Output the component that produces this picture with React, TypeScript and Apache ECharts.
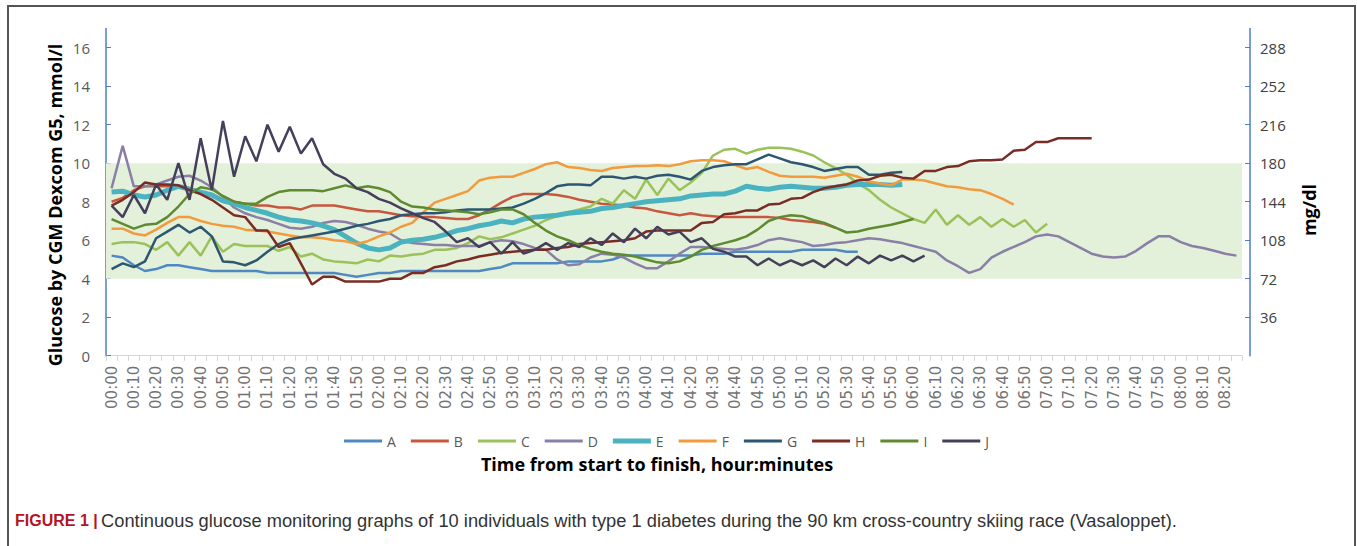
import { useEffect, useRef } from "react";
import * as echarts from "echarts";

const times = [
  "00:00","00:05","00:10","00:15","00:20","00:25","00:30","00:35","00:40","00:45","00:50","00:55",
  "01:00","01:05","01:10","01:15","01:20","01:25","01:30","01:35","01:40","01:45","01:50","01:55",
  "02:00","02:05","02:10","02:15","02:20","02:25","02:30","02:35","02:40","02:45","02:50","02:55",
  "03:00","03:05","03:10","03:15","03:20","03:25","03:30","03:35","03:40","03:45","03:50","03:55",
  "04:00","04:05","04:10","04:15","04:20","04:25","04:30","04:35","04:40","04:45","04:50","04:55",
  "05:00","05:05","05:10","05:15","05:20","05:25","05:30","05:35","05:40","05:45","05:50","05:55",
  "06:00","06:05","06:10","06:15","06:20","06:25","06:30","06:35","06:40","06:45","06:50","06:55",
  "07:00","07:05","07:10","07:15","07:20","07:25","07:30","07:35","07:40","07:45","07:50","07:55",
  "08:00","08:05","08:10","08:15","08:20","08:25"
];

const seriesNames = ["A", "B", "C", "D", "E", "F", "G", "H", "I", "J"];

const glucoseA = [
  5.2, 5.1, 4.7, 4.4, 4.5, 4.7, 4.7, 4.6, 4.5, 4.4, 4.4, 4.4, 4.4, 4.4, 4.3, 4.3, 4.3, 4.3, 4.3, 4.3,
  4.3, 4.2, 4.1, 4.2, 4.3, 4.3, 4.4, 4.4, 4.4, 4.4, 4.4, 4.4, 4.4, 4.4, 4.5, 4.6, 4.8, 4.8, 4.8, 4.8,
  4.8, 4.9, 4.9, 4.9, 4.9, 5.0, 5.2, 5.2, 5.2, 5.2, 5.2, 5.2, 5.2, 5.3, 5.3, 5.3, 5.4, 5.4, 5.4, 5.4,
  5.4, 5.4, 5.5, 5.5, 5.5, 5.5, 5.4, 5.4
];
const glucoseB = [
  8.0, 8.2, 8.6, 8.8, 8.8, 8.8, 8.8, 8.7, 8.5, 8.3, 8.1, 8.0, 7.9, 7.8, 7.8, 7.7, 7.7, 7.6, 7.8, 7.8,
  7.8, 7.7, 7.6, 7.5, 7.5, 7.4, 7.3, 7.25, 7.2, 7.2, 7.15, 7.1, 7.1, 7.3, 7.6, 7.95, 8.25, 8.4, 8.4, 8.4,
  8.35, 8.25, 8.1, 8.0, 7.9, 7.85, 7.8, 7.7, 7.65, 7.5, 7.4, 7.3, 7.4, 7.3, 7.25, 7.2, 7.2, 7.2, 7.2, 7.2,
  7.15, 7.05, 7.0, 6.95, 6.85, 6.65
];
const glucoseC = [
  5.8, 5.9, 5.9, 5.8, 5.5, 5.9, 5.2, 5.9, 5.2, 6.2, 5.4, 5.8, 5.7, 5.7, 5.7, 5.45, 5.65, 5.15, 5.3, 5.0,
  4.9, 4.85, 4.8, 5.0, 4.9, 5.2, 5.15, 5.25, 5.3, 5.5, 5.5, 5.6, 5.85, 6.2, 6.05, 6.15, 6.35, 6.55, 6.75, 7.05,
  7.25, 7.45, 7.6, 7.75, 8.15, 7.9, 8.6, 8.15, 9.15, 8.35, 9.2, 8.6, 9.0, 9.5, 10.4, 10.7, 10.75, 10.5, 10.7, 10.8,
  10.8, 10.75, 10.6, 10.4, 10.05, 9.75, 9.4, 8.95, 8.6, 8.1, 7.7, 7.4, 7.1, 6.9, 7.6, 6.8, 7.3, 6.8, 7.2, 6.7,
  7.1, 6.7, 7.05, 6.4, 6.85
];
const glucoseD = [
  8.7, 10.9, 8.8, 8.8, 8.9, 9.1, 9.3, 9.35, 9.1, 8.75, 8.25, 7.7, 7.4, 7.2, 7.05, 6.85, 6.65, 6.6, 6.7, 6.9,
  7.0, 6.95, 6.8, 6.6, 6.45, 6.35, 6.0, 5.85, 5.8, 5.75, 5.75, 5.7, 5.7, 5.7, 5.9, 6.0, 5.95, 5.8, 5.6, 5.5,
  5.0, 4.7, 4.75, 5.1, 5.3, 5.25, 5.1, 4.8, 4.55, 4.55, 4.9, 5.3, 5.65, 5.65, 5.6, 5.55, 5.5, 5.6, 5.75, 6.0,
  6.1, 6.0, 5.9, 5.7, 5.75, 5.85, 5.9, 6.0, 6.1, 6.05, 5.95, 5.85, 5.7, 5.55, 5.4, 4.95, 4.65, 4.3, 4.5, 5.1,
  5.4, 5.65, 5.9, 6.2, 6.3, 6.2, 5.9, 5.6, 5.3, 5.15, 5.1, 5.15, 5.45, 5.85, 6.2, 6.2, 5.9, 5.7, 5.6, 5.45,
  5.3, 5.2
];
const glucoseE = [
  8.5, 8.55, 8.35, 8.25, 8.35, 8.6, 8.8, 8.65, 8.5, 8.35, 8.05, 7.9, 7.7, 7.55, 7.4, 7.2, 7.05, 7.0, 6.9, 6.75,
  6.55, 6.2, 5.85, 5.6, 5.5, 5.6, 5.9, 6.0, 6.05, 6.15, 6.3, 6.5, 6.6, 6.75, 6.85, 7.0, 6.9, 7.1, 7.2, 7.25,
  7.3, 7.4, 7.45, 7.5, 7.65, 7.7, 7.8, 7.9, 8.0, 8.05, 8.1, 8.15, 8.3, 8.35, 8.4, 8.4, 8.55, 8.8, 8.7, 8.65,
  8.75, 8.8, 8.75, 8.7, 8.7, 8.75, 8.85, 8.9, 8.9, 8.9, 8.85, 8.9
];
const glucoseF = [
  6.6, 6.6, 6.35, 6.25, 6.55, 6.9, 7.2, 7.2, 7.0, 6.85, 6.75, 6.7, 6.55, 6.5, 6.45, 6.35, 6.25, 6.15, 6.15, 6.1,
  6.0, 5.95, 5.8, 5.95, 6.2, 6.4, 6.7, 6.9, 7.45, 7.95, 8.15, 8.35, 8.55, 9.1, 9.25, 9.3, 9.3, 9.5, 9.7, 9.95,
  10.05, 9.8, 9.75, 9.65, 9.6, 9.75, 9.8, 9.85, 9.85, 9.9, 9.85, 9.95, 10.1, 10.15, 10.15, 10.1, 9.9, 9.7, 9.8, 9.55,
  9.35, 9.3, 9.3, 9.3, 9.25, 9.35, 9.45, 9.3, 9.05, 8.95, 8.85, 9.15, 9.15, 9.1, 8.95, 8.8, 8.75, 8.65, 8.6, 8.4,
  8.15, 7.85
];
const glucoseG = [
  4.5, 4.8, 4.6, 4.9, 6.1, 6.45, 6.8, 6.4, 6.7, 6.2, 4.9, 4.85, 4.7, 4.95, 5.4, 5.8, 6.05, 6.15, 6.25, 6.35,
  6.45, 6.6, 6.75, 6.85, 7.0, 7.1, 7.3, 7.35, 7.4, 7.4, 7.45, 7.55, 7.6, 7.6, 7.6, 7.65, 7.7, 7.9, 8.15, 8.45,
  8.8, 8.9, 8.9, 8.85, 9.3, 9.3, 9.2, 9.3, 9.2, 9.35, 9.4, 9.3, 9.15, 9.6, 9.8, 9.9, 9.95, 9.95, 10.2, 10.45,
  10.25, 10.05, 9.95, 9.8, 9.6, 9.7, 9.8, 9.8, 9.4, 9.4, 9.5, 9.55
];
const glucoseH = [
  7.8, 8.1, 8.5, 9.0, 8.9, 8.9, 8.85, 8.6, 8.4, 8.1, 7.7, 7.3, 7.2, 6.5, 6.5, 5.65, 5.85, 4.8, 3.7, 4.1,
  4.1, 3.85, 3.85, 3.85, 3.85, 4.0, 4.0, 4.3, 4.3, 4.6, 4.7, 4.9, 5.0, 5.15, 5.25, 5.35, 5.4, 5.45, 5.5, 5.5,
  5.6, 5.65, 5.8, 5.85, 5.9, 5.95, 6.0, 6.1, 6.45, 6.5, 6.5, 6.5, 6.5, 6.9, 6.95, 7.35, 7.4, 7.55, 7.55, 7.85,
  7.9, 8.15, 8.2, 8.5, 8.7, 8.8, 8.9, 9.1, 9.15, 9.35, 9.4, 9.25, 9.2, 9.6, 9.6, 9.8, 9.85, 10.1, 10.15, 10.15,
  10.2, 10.65, 10.7, 11.1, 11.1, 11.3, 11.3, 11.3, 11.3
];
const glucoseI = [
  7.1, 6.85, 6.6, 6.8, 6.85, 7.2, 7.75, 8.4, 8.75, 8.65, 8.3, 8.0, 7.9, 7.9, 8.25, 8.5, 8.6, 8.6, 8.6, 8.55,
  8.7, 8.85, 8.7, 8.8, 8.7, 8.5, 8.0, 7.75, 7.7, 7.6, 7.55, 7.5, 7.45, 7.35, 7.45, 7.6, 7.6, 7.35, 6.9, 6.5,
  6.2, 6.0, 5.75, 5.55, 5.4, 5.3, 5.25, 5.15, 5.0, 4.85, 4.8, 4.9, 5.15, 5.5, 5.7, 5.85, 6.0, 6.2, 6.55, 7.0,
  7.2, 7.3, 7.25, 7.05, 6.9, 6.65, 6.4, 6.45, 6.6, 6.7, 6.8, 6.95, 7.1
];
const glucoseJ = [
  7.8, 7.2, 8.35, 7.4, 8.9, 8.1, 10.0, 8.1, 11.3, 8.6, 12.2, 9.3, 11.4, 10.1, 12.0, 10.6, 11.9, 10.5, 11.3, 9.95,
  9.45, 9.2, 8.7, 8.5, 8.15, 7.95, 7.65, 7.4, 7.15, 6.95, 6.45, 5.9, 6.1, 5.65, 5.9, 5.3, 5.9, 5.3, 5.5, 5.85,
  5.5, 5.85, 5.65, 6.1, 5.75, 6.35, 5.9, 6.6, 6.1, 6.7, 6.3, 6.45, 5.9, 6.1, 5.55, 5.4, 5.15, 5.15, 4.7, 5.05,
  4.7, 4.95, 4.7, 4.95, 4.6, 5.05, 4.7, 5.15, 4.8, 5.2, 4.95, 5.2, 4.9, 5.2
];

const allSeries = [glucoseA, glucoseB, glucoseC, glucoseD, glucoseE, glucoseF, glucoseG, glucoseH, glucoseI, glucoseJ];
const seriesColors = ["#4f88c2", "#c8573f", "#9bc25a", "#8a7fa6", "#4bb2c0", "#f29a3c", "#2d5671", "#7a2c24", "#5f8a30", "#463f5c"];
const seriesWidths = [2.5, 2.5, 2.5, 2.5, 5, 2.5, 2.5, 2.5, 2.5, 2.5];

const mmolTicks = [0, 2, 4, 6, 8, 10, 12, 14, 16];
const mgdlTicks = [36, 72, 108, 144, 180, 216, 252, 288];
const targetRange = [4, 10];

const yTitle = "Glucose by CGM Dexcom G5, mmol/l";
const yRightTitle = "mg/dl";
const xTitle = "Time from start to finish, hour:minutes";
const captionBold = "FIGURE 1 |";
const captionText =
  "Continuous glucose monitoring graphs of 10 individuals with type 1 diabetes during the 90 km cross-country skiing race (Vasaloppet).";

function pad(arr: number[]): (number | null)[] {
  const out: (number | null)[] = [];
  for (let i = 0; i < times.length; i++) out.push(i < arr.length ? arr[i] : null);
  return out;
}

export default function App() {
  const ref = useRef<HTMLDivElement>(null);
  useEffect(() => {
    if (!ref.current) return;
    const chart = echarts.init(ref.current, undefined, { renderer: "svg" });
    const axisBlue = "#4f7fc6";
    const series: any[] = [
      {
        name: "band",
        type: "line",
        data: [],
        silent: true,
        z: 1,
        markArea: {
          silent: true,
          itemStyle: { color: "#e3f0da" },
          data: [[{ yAxis: targetRange[0] }, { yAxis: targetRange[1] }]],
        },
      },
    ];
    seriesNames.forEach((n, i) => {
      series.push({
        name: n,
        type: "line",
        data: pad(allSeries[i]),
        symbol: "none",
        showSymbol: false,
        connectNulls: false,
        z: 3,
        lineStyle: { color: seriesColors[i], width: seriesWidths[i] },
        itemStyle: { color: seriesColors[i] },
      });
    });
    const legendData = seriesNames.map((n, i) => ({
      name: n,
      icon: seriesWidths[i] > 3 ? "path://M0,0H38V5H0Z" : "path://M0,0H38V3H0Z",
    }));
    chart.setOption({
      animation: false,
      grid: { left: 106, right: 115, top: 28.5, bottom: 190.3, containLabel: false },
      legend: {
        data: legendData,
        left: 339,
        top: 429,
        itemWidth: 38,
        itemHeight: 14,
        itemGap: 15,
        symbolKeepAspect: true,
        textStyle: { fontSize: 14, color: "#595959", fontFamily: "Open Sans" },
      },
      xAxis: {
        type: "category",
        data: times,
        boundaryGap: true,
        axisLine: { lineStyle: { color: "#d4d4d4", width: 1 } },
        axisTick: { show: true, interval: 0, length: 5, lineStyle: { color: "#d4d4d4" } },
        axisLabel: {
          interval: 1,
          rotate: 90,
          fontSize: 15,
          color: "#737373",
          fontFamily: "DejaVu Sans",
          margin: 10,
        },
        splitLine: { show: false },
      },
      yAxis: [
        {
          type: "value",
          min: 0,
          max: 17,
          interval: 2,
          axisLine: { show: true, lineStyle: { color: axisBlue, width: 1.5 } },
          axisTick: { show: true, inside: true, length: 5, lineStyle: { color: axisBlue }, customValues: mmolTicks },
          axisLabel: {
            fontSize: 15,
            color: "#595959",
            fontFamily: "Open Sans",
            margin: 16,
            customValues: mmolTicks,
            formatter: (v: number) => (mmolTicks.indexOf(v) >= 0 ? String(v) : ""),
          },
          splitLine: { show: false },
        },
        {
          type: "value",
          position: "right",
          offset: 8,
          min: 0,
          max: 306,
          interval: 36,
          axisLine: { show: true, lineStyle: { color: axisBlue, width: 1.5 } },
          axisTick: { show: true, inside: true, length: 5, lineStyle: { color: axisBlue }, customValues: mgdlTicks },
          axisLabel: {
            fontSize: 15,
            color: "#404040",
            fontFamily: "Open Sans",
            margin: 10,
            customValues: mgdlTicks,
            formatter: (v: number) => (mgdlTicks.indexOf(v) >= 0 ? String(v) : ""),
          },
          splitLine: { show: false },
        },
      ],
      series,
      graphic: [
        {
          type: "rect",
          shape: { x: 8, y: 6, width: 1347, height: 600 },
          style: { fill: "none", stroke: "#555555", lineWidth: 2 },
          silent: true,
        },
        {
          type: "text",
          x: 55,
          y: 205,
          rotation: Math.PI / 2,
          style: {
            text: yTitle,
            fill: "#000",
            font: 'bold 18px "Open Sans"',
            align: "center",
            verticalAlign: "middle",
            textAlign: "center",
            textVerticalAlign: "middle",
          },
        },
        {
          type: "text",
          x: 1309,
          y: 210,
          rotation: Math.PI / 2,
          style: {
            text: yRightTitle,
            fill: "#000",
            font: 'bold 18px "Open Sans"',
            align: "center",
            verticalAlign: "middle",
            textAlign: "center",
            textVerticalAlign: "middle",
          },
        },
        {
          type: "text",
          x: 657,
          y: 464,
          style: {
            text: xTitle,
            fill: "#000",
            font: 'bold 18px "Open Sans"',
            align: "center",
            verticalAlign: "middle",
            textAlign: "center",
            textVerticalAlign: "middle",
          },
        },
        {
          type: "text",
          x: 15,
          y: 520,
          style: {
            text: "{b|" + captionBold + "} {n|" + captionText + "}",
            align: "left",
            verticalAlign: "middle",
            textAlign: "left",
            textVerticalAlign: "middle",
            rich: {
              b: { fontWeight: "bold", fill: "#b3151f", fontSize: 16, fontFamily: "Liberation Sans Narrow, Liberation Sans" },
              n: { fill: "#333333", fontSize: 18.3, fontFamily: "Liberation Sans Narrow, Liberation Sans" },
            },
          },
        },
      ],
    });
    return () => chart.dispose();
  }, []);
  return (
    <div
      ref={ref}
      style={{ position: "fixed", left: 0, top: 0, width: 1357, height: 546, background: "#fff" }}
    />
  );
}
